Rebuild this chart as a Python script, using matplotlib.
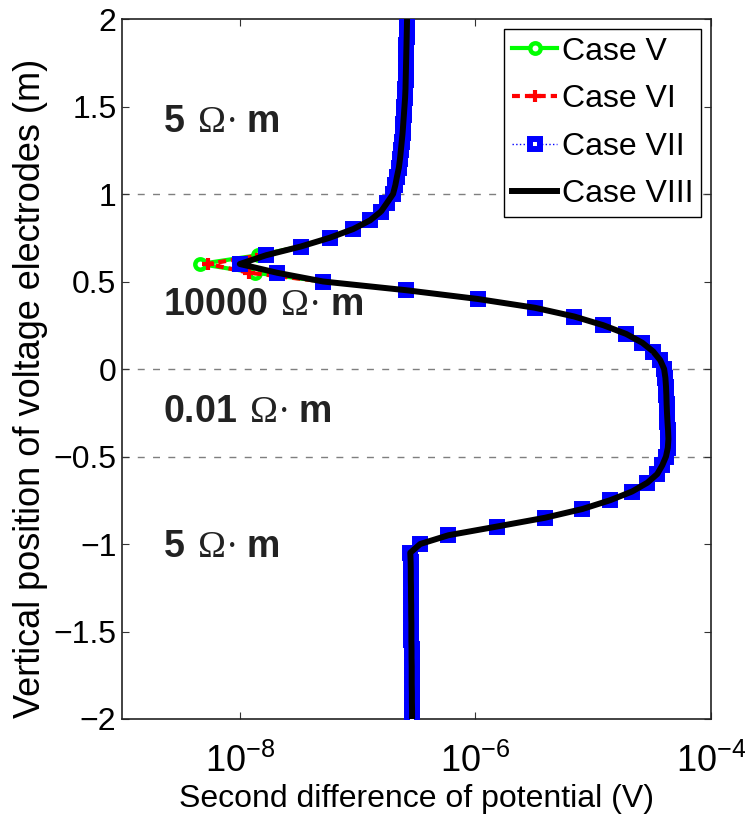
import matplotlib
matplotlib.use("Agg")
import matplotlib.pyplot as plt
import matplotlib.transforms as mtransforms
from matplotlib.ticker import FixedLocator, NullLocator

# ----------------------------
# Fonts
# ----------------------------
plt.rcParams["font.family"] = ["Liberation Sans", "DejaVu Sans"]
plt.rcParams["mathtext.fontset"] = "custom"
plt.rcParams["mathtext.rm"] = "Liberation Serif"
plt.rcParams["mathtext.it"] = "Liberation Serif:italic"
plt.rcParams["mathtext.bf"] = "Liberation Sans:bold"
plt.rcParams["mathtext.sf"] = "Liberation Sans"

# ----------------------------
# Data (electrode position in m, second difference in V)
# ----------------------------
depth = [
    2.00, 1.95, 1.90, 1.85, 1.80, 1.75, 1.70, 1.65, 1.60, 1.55,
    1.50, 1.45, 1.40, 1.35, 1.30, 1.25, 1.20, 1.15, 1.10, 1.05,
    1.00, 0.95, 0.90, 0.85, 0.80, 0.75, 0.70, 0.65, 0.60, 0.55,
    0.50, 0.45, 0.40, 0.35, 0.30, 0.25, 0.20, 0.15, 0.10, 0.05,
    0.00, -0.05, -0.10, -0.15, -0.20, -0.25, -0.30, -0.35, -0.40, -0.45,
    -0.50, -0.55, -0.60, -0.65, -0.70, -0.75, -0.80, -0.85, -0.90, -0.95,
    -1.00, -1.05, -1.10, -1.15, -1.20, -1.25, -1.30, -1.35, -1.40, -1.45,
    -1.50, -1.55, -1.60, -1.65, -1.70, -1.75, -1.80, -1.85, -1.90, -1.95,
    -2.00,
]

case_vii = [
    2.63e-7, 2.62e-7, 2.61e-7, 2.60e-7, 2.59e-7, 2.58e-7, 2.57e-7, 2.56e-7, 2.55e-7, 2.53e-7,
    2.50e-7, 2.47e-7, 2.44e-7, 2.41e-7, 2.37e-7, 2.33e-7, 2.29e-7, 2.24e-7, 2.16e-7, 2.09e-7,
    2.00e-7, 1.78e-7, 1.58e-7, 1.28e-7, 9.2e-8, 5.8e-8, 3.3e-8, 1.67e-8, 1.0e-8, 2.07e-8,
    5.1e-8, 2.6e-7, 1.05e-6, 3.2e-6, 6.9e-6, 1.22e-5, 1.91e-5, 2.61e-5, 3.23e-5, 3.71e-5,
    4.00e-5, 4.10e-5, 4.15e-5, 4.18e-5, 4.20e-5, 4.23e-5, 4.27e-5, 4.32e-5, 4.35e-5, 4.30e-5,
    4.15e-5, 3.86e-5, 3.50e-5, 2.88e-5, 2.14e-5, 1.39e-5, 8.1e-6, 3.9e-6, 1.53e-6, 5.9e-7,
    3.4e-7, 2.80e-7, 2.82e-7, 2.83e-7, 2.83e-7, 2.84e-7, 2.84e-7, 2.85e-7, 2.85e-7, 2.86e-7,
    2.86e-7, 2.86e-7, 2.87e-7, 2.87e-7, 2.88e-7, 2.88e-7, 2.88e-7, 2.89e-7, 2.89e-7, 2.90e-7,
    2.90e-7,
]
case_viii = list(case_vii)

# Cases V and VI only differ from VII near the top of the 10000 ohm-m layer (0.65, 0.60, 0.55 m)
case_v = list(case_vii)
case_v[27:30] = [1.42e-8, 4.6e-9, 1.35e-8]
case_vi = list(case_vii)
case_vi[27:30] = [1.5e-8, 5.4e-9, 1.2e-8]

boundaries = [1.0, 0.0, -0.5]
layer_labels = ["5", "10000", "0.01", "5"]
layer_label_y = [1.41, 0.366, -0.246, -1.017]

# ----------------------------
# Figure
# ----------------------------
fig = plt.figure(figsize=(7.45, 8.18), dpi=100)
ax = fig.add_axes([122 / 745, 99 / 818, 589 / 745, 700 / 818])

for yb in boundaries:
    ax.axhline(yb, color="#7f7f7f", lw=1.0, dashes=(5, 6), zorder=1)

ax.plot(case_v, depth, color="#00ff00", lw=3, marker="o", ms=7.5,
        mfc="white", mec="#00ff00", mew=3.2, label="Case V", zorder=2)
ax.plot(case_vi, depth, color="red", lw=3, dashes=(1.9, 1.2), marker="+",
        ms=9, mew=3, label="Case VI", zorder=3)
ax.plot(case_vii, depth, color="blue", lw=1, ls=":", marker="s", ms=6.5,
        mfc="white", mec="blue", mew=4.3, label="Case VII", zorder=4)
ax.plot(case_viii, depth, color="black", lw=4.3, label="Case VIII", zorder=5)

ax.set_xscale("log")
ax.set_xlim(1e-9, 1e-4)
ax.set_ylim(-2, 2)
ax.xaxis.set_major_locator(FixedLocator([1e-8, 1e-6, 1e-4]))
ax.xaxis.set_minor_locator(NullLocator())
ax.set_yticks([-2, -1.5, -1, -0.5, 0, 0.5, 1, 1.5, 2])
ax.set_yticklabels(["\u22122", "\u22121.5", "\u22121", "\u22120.5", "0",
                    "0.5", "1", "1.5", "2"])

ax.tick_params(which="both", direction="in", top=True, right=True,
               length=5, width=0.8, color="#333333")
ax.tick_params(axis="x", labelsize=26, pad=18)
ax.tick_params(axis="y", labelsize=23, pad=4)
for sp in ax.spines.values():
    sp.set_color("#222222")
    sp.set_linewidth(1.2)

ax.set_xlabel("Second difference of potential (V)", fontsize=23, va="top")
ax.xaxis.set_label_coords(0.5, -0.093)
ax.set_ylabel("Vertical position of voltage electrodes (m)", fontsize=26)
ax.yaxis.set_label_coords(-0.125, 0.472)

# layer resistivity labels
trans = mtransforms.blended_transform_factory(ax.transAxes, ax.transData)
for lab, yy in zip(layer_labels, layer_label_y):
    ax.text(0.07, yy, r"$\mathbf{%s}\ \,\Omega$" % lab + "$\u00b7\\ \\mathbf{m}$",
            transform=trans, fontsize=27, color="#222222", va="center", ha="left")

leg = ax.legend(loc="upper right", fontsize=23, numpoints=1, handlelength=1.4,
                handletextpad=0.15, labelspacing=0.55, borderpad=0.25,
                borderaxespad=0.3, fancybox=False, framealpha=1,
                edgecolor="black")
leg.get_frame().set_linewidth(1.0)

fig.savefig("out.png", dpi=100)
